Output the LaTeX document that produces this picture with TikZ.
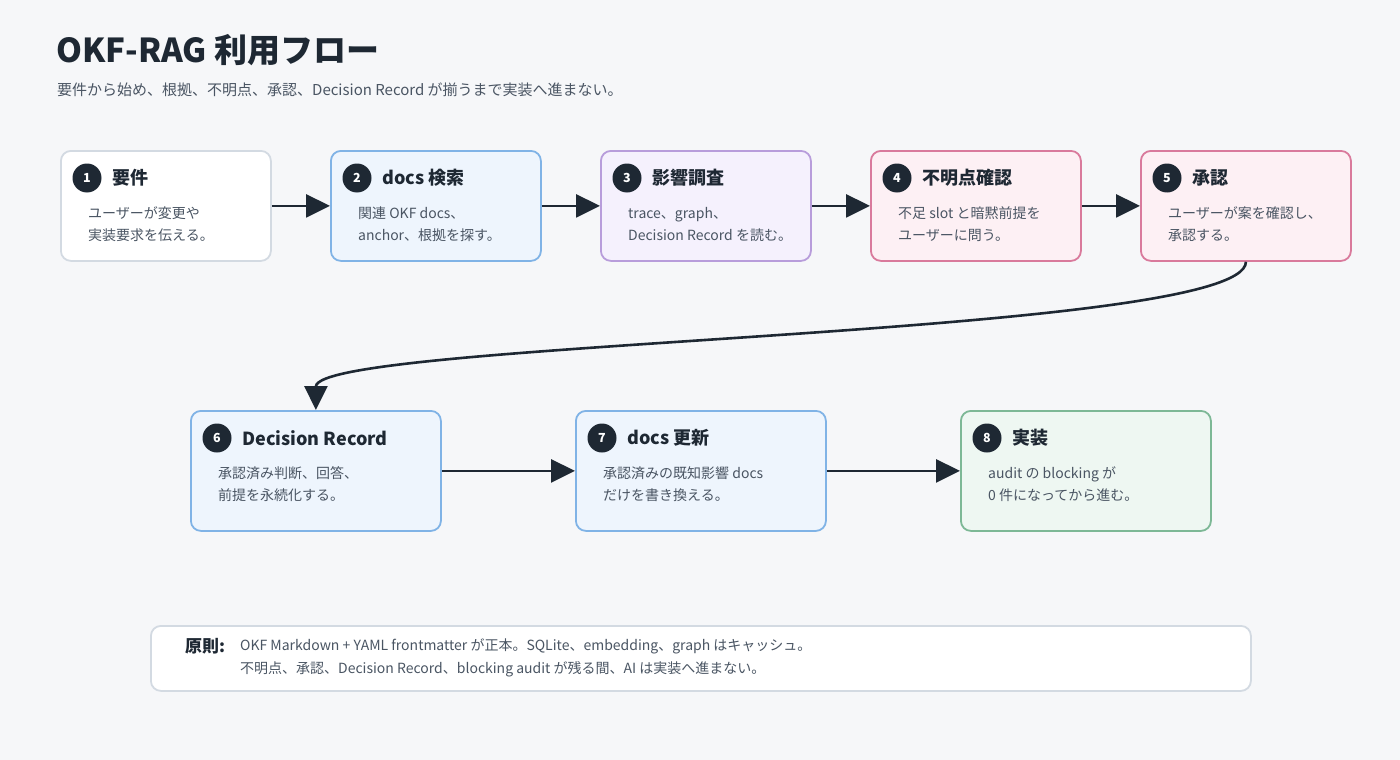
\documentclass[tikz,border=0pt]{standalone}
\usepackage{fontspec}
\setmainfont{Noto Sans CJK JP}
\usetikzlibrary{arrows.meta,calc}
\definecolor{bgc}{HTML}{F6F7F9}
\definecolor{ink}{HTML}{1E2833}
\definecolor{bodyc}{HTML}{4A5563}
\definecolor{grayb}{HTML}{D3DAE2}
\definecolor{bluef}{HTML}{EEF5FD}
\definecolor{blueb}{HTML}{80B3E6}
\definecolor{purf}{HTML}{F5F1FD}
\definecolor{purb}{HTML}{B89DDB}
\definecolor{pinkf}{HTML}{FDF0F4}
\definecolor{pinkb}{HTML}{D97A9C}
\definecolor{greenf}{HTML}{EEF7F2}
\definecolor{greenb}{HTML}{7DB896}
\tikzset{
  card/.style={draw, line width=1.8pt, rounded corners=10pt, inner sep=0pt},
  whitecard/.style={card, fill=white, draw=grayb},
  bluecard/.style={card, fill=bluef, draw=blueb},
  purcard/.style={card, fill=purf, draw=purb},
  pinkcard/.style={card, fill=pinkf, draw=pinkb},
  greencard/.style={card, fill=greenf, draw=greenb},
  numcirc/.style={circle, fill=ink, text=white, minimum size=29pt, inner sep=0pt, font=\fontsize{12.5}{12.5}\selectfont\bfseries},
  cardtitle/.style={anchor=west, text=ink, inner sep=0pt, font=\fontsize{18}{21}\selectfont\bfseries},
  cardbody/.style={anchor=west, text=bodyc, inner sep=0pt, align=left, font=\fontsize{14}{22}\selectfont},
  flowarrow/.style={draw=ink, line width=2.6pt, -{Triangle[length=24pt,width=23pt]}},
}
\newcommand\flowbox[9]{%
  \node[#6, minimum width=#4pt, minimum height=#5pt, anchor=north west] (#1) at (#2,#3) {};
  \node[numcirc] (#1n) at ($(#1.north west)+(27,28)$) {#7};
  \node[cardtitle] (#1t) at ($(#1.north west)+(52,28)$) {#8};
  \node[cardbody] (#1b) at ($(#1.north west)+(28,74)$) {#9};
}
\begin{document}
\begin{tikzpicture}[x=1pt,y=-1pt]
\fill[bgc] (0,0) rectangle (1400,760);
\useasboundingbox (0,0) rectangle (1400,760);

\node[anchor=west, text=ink, inner sep=0pt, font=\fontsize{33}{37}\selectfont\bfseries] (title) at (56,50) {OKF-RAG 利用フロー};
\node[anchor=west, text=bodyc, inner sep=0pt, font=\fontsize{15}{17}\selectfont] (subtitle) at (57,90) {要件から始め、根拠、不明点、承認、Decision Record が揃うまで実装へ進まない。};

\flowbox{b1}{60}{150}{210}{110}{whitecard}{1}{要件}{ユーザーが変更や\\実装要求を伝える。}
\flowbox{b2}{330}{150}{210}{110}{bluecard}{2}{docs 検索}{関連 OKF docs、\\anchor、根拠を探す。}
\flowbox{b3}{600}{150}{210}{110}{purcard}{3}{影響調査}{trace、graph、\\Decision Record を読む。}
\flowbox{b4}{870}{150}{210}{110}{pinkcard}{4}{不明点確認}{不足 slot と暗黙前提を\\ユーザーに問う。}
\flowbox{b5}{1140}{150}{210}{110}{pinkcard}{5}{承認}{ユーザーが案を確認し、\\承認する。}

\flowbox{b6}{190}{410}{250}{120}{bluecard}{6}{Decision Record}{承認済み判断、回答、\\前提を永続化する。}
\flowbox{b7}{575}{410}{250}{120}{bluecard}{7}{docs 更新}{承認済みの既知影響 docs\\だけを書き換える。}
\flowbox{b8}{960}{410}{250}{120}{greencard}{8}{実装}{audit の blocking が\\0 件になってから進む。}

\draw[flowarrow] (b1.east) -- (b2.west);
\draw[flowarrow] (b2.east) -- (b3.west);
\draw[flowarrow] (b3.east) -- (b4.west);
\draw[flowarrow] (b4.east) -- (b5.west);
\draw[flowarrow] (b5.south) .. controls +(0,75) and +(0,-70) .. (b6.north);
\draw[flowarrow] (b6.east) -- (b7.west);
\draw[flowarrow] (b7.east) -- (b8.west);

\node[card, fill=white, draw=grayb, minimum width=1100pt, minimum height=65pt, anchor=north west] (note) at (150,625) {};
\node[anchor=west, text=ink, inner sep=0pt, font=\fontsize{17}{19}\selectfont\bfseries] (notelabel) at (185,646) {原則:};
\node[anchor=west, text=bodyc, inner sep=0pt, align=left, font=\fontsize{14}{23}\selectfont] (notebody) at (240,658) {OKF Markdown + YAML frontmatter が正本。SQLite、embedding、graph はキャッシュ。\\不明点、承認、Decision Record、blocking audit が残る間、AI は実装へ進まない。};
\end{tikzpicture}
\end{document}
